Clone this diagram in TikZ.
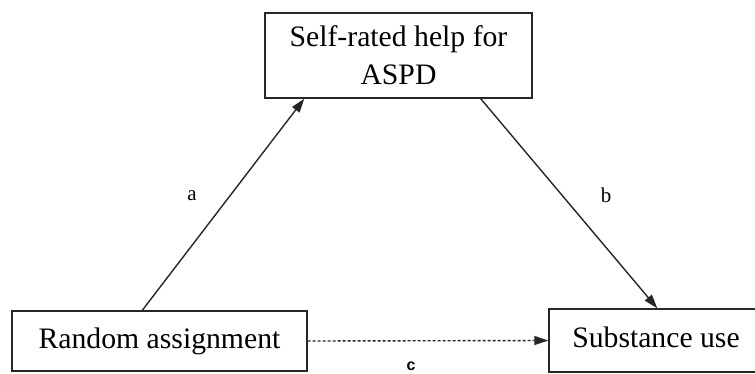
\documentclass[tikz,border=0pt]{standalone}
\usepackage{fontspec}
\setmainfont{Liberation Serif}
\setsansfont{Liberation Sans}
\usetikzlibrary{arrows.meta,calc}
\begin{document}
\begin{tikzpicture}[x=1pt,y=-1pt,
  box/.style={draw=black!85,line width=1.4pt,rectangle,inner sep=0pt,align=center,
    font=\fontsize{29.7}{38}\selectfont},
  conn/.style={draw=black!85,line width=1.4pt,-{Triangle[length=14pt,width=9pt]}},
  lab/.style={font=\fontsize{21}{23}\selectfont},
]
\useasboundingbox (0,0) rectangle (755,373);
\node[box,minimum width=267pt,minimum height=85pt] (top) at (398.5,55.5) {Self-rated help for\\ASPD};
\node[box,minimum width=295pt,minimum height=60pt] (ra) at (159.5,341) {\raisebox{5pt}{Random assignment}};
\node[box,minimum width=221pt,minimum height=63pt] (su) at (659.5,340.5) {\raisebox{6pt}{Substance use}\hspace*{7pt}};
\coordinate (aS) at ([xshift=131pt]ra.north west);
\coordinate (aE) at ([xshift=40pt]top.south west);
\coordinate (bS) at ([xshift=-52pt]top.south east);
\coordinate (bE) at ([xshift=109pt]su.north west);
\draw[conn] (aS) -- (aE);
\draw[conn] (bS) -- (bE);
\draw[conn,dash pattern=on 3pt off 2pt] (ra.east) -- (su.west);
\node[lab] (la) at (192,196) {a};
\node[lab] (lb) at (606,195) {b};
\node[lab,font=\sffamily\bfseries\fontsize{16}{18}\selectfont] (lc) at (411,366) {c};
\end{tikzpicture}
\end{document}
